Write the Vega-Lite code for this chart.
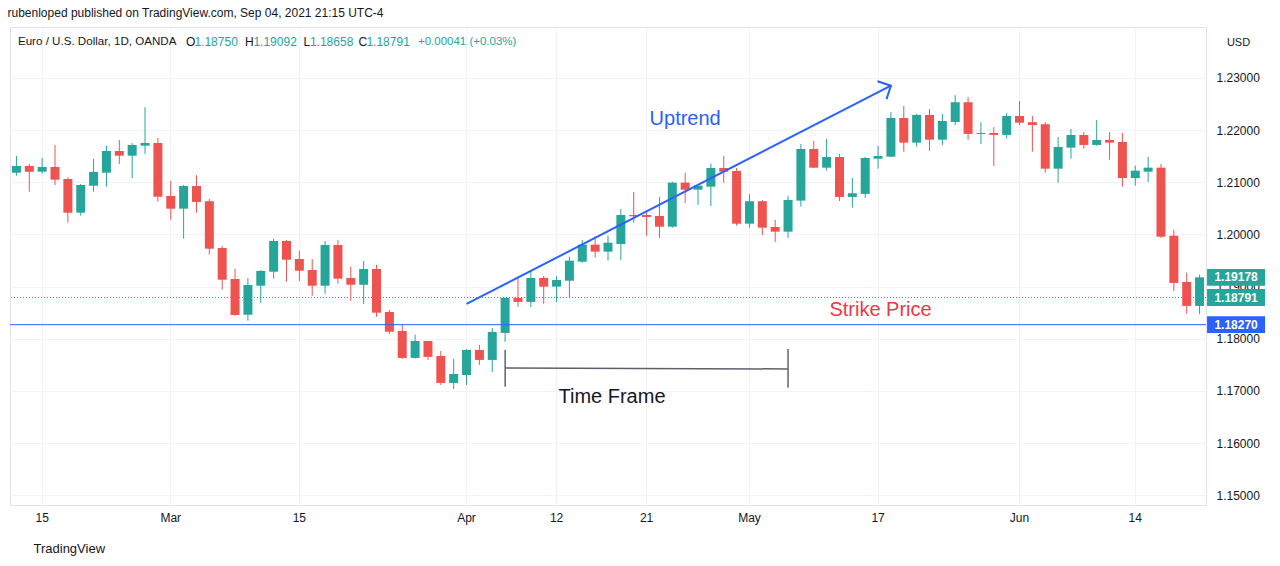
{
  "$schema": "https://vega.github.io/schema/vega-lite/v6.json",
  "autosize": "none",
  "width": 1196,
  "height": 478,
  "padding": {"left": 10, "top": 27, "right": 74, "bottom": 61},
  "background": "white",
  "title": {"text": "rubenloped published on TradingView.com, Sep 04, 2021 21:15 UTC-4", "anchor": "start", "dx": -2, "offset": 7, "fontSize": 12, "fontWeight": "normal", "color": "#131722", "font": "Liberation Sans"},
  "config": {
    "font": "Liberation Sans",
    "view": {"stroke": "#e0e3eb"}
  },
  "datasets": {
    "candles": [
      {"d":"2021-02-11","o":1.21184,"h":1.21504,"l":1.21127,"c":1.21313},
      {"d":"2021-02-12","o":1.21313,"h":1.21351,"l":1.20819,"c":1.21203},
      {"d":"2021-02-15","o":1.21203,"h":1.21466,"l":1.21165,"c":1.21294},
      {"d":"2021-02-16","o":1.21294,"h":1.21715,"l":1.20948,"c":1.21050},
      {"d":"2021-02-17","o":1.21063,"h":1.21095,"l":1.20225,"c":1.20417},
      {"d":"2021-02-18","o":1.20417,"h":1.20967,"l":1.20360,"c":1.20948},
      {"d":"2021-02-19","o":1.20934,"h":1.21447,"l":1.20819,"c":1.21198},
      {"d":"2021-02-22","o":1.21184,"h":1.21696,"l":1.20916,"c":1.21600},
      {"d":"2021-02-23","o":1.21600,"h":1.21811,"l":1.21352,"c":1.21510},
      {"d":"2021-02-24","o":1.21510,"h":1.21753,"l":1.21082,"c":1.21715},
      {"d":"2021-02-25","o":1.21702,"h":1.22439,"l":1.21543,"c":1.21753},
      {"d":"2021-02-26","o":1.21753,"h":1.21849,"l":1.20628,"c":1.20724},
      {"d":"2021-03-01","o":1.20738,"h":1.21025,"l":1.20283,"c":1.20494},
      {"d":"2021-03-02","o":1.20494,"h":1.20948,"l":1.19919,"c":1.20929},
      {"d":"2021-03-03","o":1.20929,"h":1.21135,"l":1.20417,"c":1.20623},
      {"d":"2021-03-04","o":1.20637,"h":1.20680,"l":1.19617,"c":1.19727},
      {"d":"2021-03-05","o":1.19740,"h":1.19779,"l":1.18941,"c":1.19132},
      {"d":"2021-03-08","o":1.19146,"h":1.19343,"l":1.18442,"c":1.18455},
      {"d":"2021-03-09","o":1.18461,"h":1.19165,"l":1.18346,"c":1.19030},
      {"d":"2021-03-10","o":1.19017,"h":1.19318,"l":1.18687,"c":1.19299},
      {"d":"2021-03-11","o":1.19285,"h":1.19919,"l":1.19152,"c":1.19874},
      {"d":"2021-03-12","o":1.19874,"h":1.19894,"l":1.19095,"c":1.19516},
      {"d":"2021-03-15","o":1.19529,"h":1.19689,"l":1.19108,"c":1.19305},
      {"d":"2021-03-16","o":1.19318,"h":1.19529,"l":1.18826,"c":1.19017},
      {"d":"2021-03-17","o":1.19017,"h":1.19874,"l":1.18860,"c":1.19798},
      {"d":"2021-03-18","o":1.19798,"h":1.19894,"l":1.19057,"c":1.19152},
      {"d":"2021-03-19","o":1.19165,"h":1.19381,"l":1.18725,"c":1.19036},
      {"d":"2021-03-22","o":1.19036,"h":1.19491,"l":1.18668,"c":1.19337},
      {"d":"2021-03-23","o":1.19337,"h":1.19414,"l":1.18423,"c":1.18500},
      {"d":"2021-03-24","o":1.18513,"h":1.18551,"l":1.18093,"c":1.18135},
      {"d":"2021-03-25","o":1.18149,"h":1.18283,"l":1.17613,"c":1.17633},
      {"d":"2021-03-26","o":1.17633,"h":1.18078,"l":1.17620,"c":1.17957},
      {"d":"2021-03-29","o":1.17957,"h":1.17960,"l":1.17594,"c":1.17652},
      {"d":"2021-03-30","o":1.17671,"h":1.17765,"l":1.17114,"c":1.17153},
      {"d":"2021-03-31","o":1.17153,"h":1.17613,"l":1.17038,"c":1.17324},
      {"d":"2021-04-01","o":1.17305,"h":1.17804,"l":1.17114,"c":1.17785},
      {"d":"2021-04-02","o":1.17785,"h":1.17881,"l":1.17498,"c":1.17594},
      {"d":"2021-04-05","o":1.17594,"h":1.18208,"l":1.17364,"c":1.18131},
      {"d":"2021-04-06","o":1.18112,"h":1.18790,"l":1.17939,"c":1.18783},
      {"d":"2021-04-07","o":1.18783,"h":1.19186,"l":1.18610,"c":1.18706},
      {"d":"2021-04-08","o":1.18706,"h":1.19286,"l":1.18610,"c":1.19165},
      {"d":"2021-04-09","o":1.19165,"h":1.19204,"l":1.18668,"c":1.18999},
      {"d":"2021-04-12","o":1.18999,"h":1.19204,"l":1.18706,"c":1.19127},
      {"d":"2021-04-13","o":1.19113,"h":1.19574,"l":1.18783,"c":1.19497},
      {"d":"2021-04-14","o":1.19478,"h":1.19894,"l":1.19459,"c":1.19804},
      {"d":"2021-04-15","o":1.19804,"h":1.19957,"l":1.19555,"c":1.19670},
      {"d":"2021-04-16","o":1.19670,"h":1.19976,"l":1.19497,"c":1.19842},
      {"d":"2021-04-19","o":1.19817,"h":1.20488,"l":1.19510,"c":1.20373},
      {"d":"2021-04-20","o":1.20373,"h":1.20815,"l":1.20225,"c":1.20348},
      {"d":"2021-04-21","o":1.20373,"h":1.20451,"l":1.19974,"c":1.20335},
      {"d":"2021-04-22","o":1.20354,"h":1.20719,"l":1.19933,"c":1.20149},
      {"d":"2021-04-23","o":1.20149,"h":1.21012,"l":1.20130,"c":1.20993},
      {"d":"2021-04-26","o":1.20993,"h":1.21184,"l":1.20604,"c":1.20858},
      {"d":"2021-04-27","o":1.20858,"h":1.20940,"l":1.20566,"c":1.20935},
      {"d":"2021-04-28","o":1.20916,"h":1.21357,"l":1.20546,"c":1.21274},
      {"d":"2021-04-29","o":1.21274,"h":1.21505,"l":1.20990,"c":1.21203},
      {"d":"2021-04-30","o":1.21216,"h":1.21274,"l":1.20168,"c":1.20206},
      {"d":"2021-05-03","o":1.20206,"h":1.20771,"l":1.20130,"c":1.20637},
      {"d":"2021-05-04","o":1.20637,"h":1.20661,"l":1.19990,"c":1.20130},
      {"d":"2021-05-05","o":1.20143,"h":1.20283,"l":1.19856,"c":1.20053},
      {"d":"2021-05-06","o":1.20053,"h":1.20743,"l":1.19933,"c":1.20661},
      {"d":"2021-05-07","o":1.20648,"h":1.21734,"l":1.20533,"c":1.21638},
      {"d":"2021-05-10","o":1.21638,"h":1.21792,"l":1.21275,"c":1.21280},
      {"d":"2021-05-11","o":1.21280,"h":1.21830,"l":1.21222,"c":1.21485},
      {"d":"2021-05-12","o":1.21485,"h":1.21542,"l":1.20642,"c":1.20719},
      {"d":"2021-05-13","o":1.20719,"h":1.21082,"l":1.20514,"c":1.20790},
      {"d":"2021-05-14","o":1.20777,"h":1.21485,"l":1.20700,"c":1.21466},
      {"d":"2021-05-17","o":1.21452,"h":1.21696,"l":1.21261,"c":1.21504},
      {"d":"2021-05-18","o":1.21491,"h":1.22348,"l":1.21485,"c":1.22233},
      {"d":"2021-05-19","o":1.22233,"h":1.22463,"l":1.21587,"c":1.21760},
      {"d":"2021-05-20","o":1.21760,"h":1.22310,"l":1.21683,"c":1.22290},
      {"d":"2021-05-21","o":1.22290,"h":1.22405,"l":1.21601,"c":1.21817},
      {"d":"2021-05-24","o":1.21817,"h":1.22310,"l":1.21716,"c":1.22175},
      {"d":"2021-05-25","o":1.22156,"h":1.22669,"l":1.22099,"c":1.22535},
      {"d":"2021-05-26","o":1.22535,"h":1.22631,"l":1.21817,"c":1.21927},
      {"d":"2021-05-27","o":1.21927,"h":1.22152,"l":1.21735,"c":1.21946},
      {"d":"2021-05-28","o":1.21946,"h":1.22056,"l":1.21314,"c":1.21908},
      {"d":"2021-05-31","o":1.21908,"h":1.22329,"l":1.21836,"c":1.22271},
      {"d":"2021-06-01","o":1.22271,"h":1.22559,"l":1.22099,"c":1.22143},
      {"d":"2021-06-02","o":1.22152,"h":1.22271,"l":1.21587,"c":1.22099},
      {"d":"2021-06-03","o":1.22113,"h":1.22152,"l":1.21184,"c":1.21261},
      {"d":"2021-06-04","o":1.21261,"h":1.21868,"l":1.20990,"c":1.21677},
      {"d":"2021-06-07","o":1.21664,"h":1.22022,"l":1.21452,"c":1.21907},
      {"d":"2021-06-08","o":1.21907,"h":1.21964,"l":1.21645,"c":1.21716},
      {"d":"2021-06-09","o":1.21716,"h":1.22194,"l":1.21702,"c":1.21811},
      {"d":"2021-06-10","o":1.21811,"h":1.21964,"l":1.21434,"c":1.21760},
      {"d":"2021-06-11","o":1.21773,"h":1.21945,"l":1.20916,"c":1.21082},
      {"d":"2021-06-14","o":1.21082,"h":1.21318,"l":1.20935,"c":1.21222},
      {"d":"2021-06-15","o":1.21203,"h":1.21485,"l":1.21006,"c":1.21280},
      {"d":"2021-06-16","o":1.21280,"h":1.21352,"l":1.19933,"c":1.19957},
      {"d":"2021-06-17","o":1.19976,"h":1.20091,"l":1.18917,"c":1.19070},
      {"d":"2021-06-18","o":1.19088,"h":1.19267,"l":1.18476,"c":1.18630},
      {"d":"2021-06-21","o":1.18630,"h":1.19228,"l":1.18476,"c":1.19178}
    ],
    "tags": [
      {"p":1.19178,"t":"1.19178","k":"last"},
      {"p":1.18791,"t":"1.18791","k":"close"},
      {"p":1.18270,"t":"1.18270","k":"strike"}
    ],
    "arrow": [
      {"d":"2021-04-01","p":1.18667},
      {"d":"2021-05-18","p":1.22852}
    ],
    "frame": [
      {"d":"2021-04-06","lo":1.17081,"hi":1.17785,"p":1.17440},
      {"d":"2021-05-06","lo":1.17062,"hi":1.17804,"p":1.17421}
    ],
    "hdr": [
      {"pair":"Euro / U.S. Dollar, 1D, OANDA","o":"1.18750","h":"1.19092","l":"1.18658","c":"1.18791","chg":"+0.00041 (+0.03%)","d":"2021-02-11","p":1.2369}
    ]
  },
  "layer": [
    {
      "data": {"name": "candles"},
      "mark": {"type": "rule", "strokeWidth": 1},
      "encoding": {
        "x": {
          "field": "d", "type": "ordinal",
          "scale": {"type": "band", "paddingInner": 0, "paddingOuter": 0},
          "axis": {
            "values": ["2021-02-15","2021-03-01","2021-03-15","2021-04-01","2021-04-12","2021-04-21","2021-05-03","2021-05-17","2021-06-01","2021-06-14"],
            "labelExpr": "indexof(['2021-03-01','2021-04-01','2021-05-03','2021-06-01'], datum.value) >= 0 ? utcFormat(toDate(datum.value), '%b') : utcFormat(toDate(datum.value), '%-d')",
            "bandPosition": 0.5,
            "grid": true, "gridColor": "#f0f3fa", "gridWidth": 1,
            "ticks": false, "domain": false,
            "labelAngle": 0, "labelFontSize": 12, "labelColor": "#131722", "labelPadding": 7,
            "title": "TradingView", "titleX": 23, "titleY": 43, "titleAlign": "left", "titleBaseline": "middle",
            "titleFontSize": 13, "titleFontWeight": "normal", "titleColor": "#131722"
          }
        },
        "y": {
          "field": "l", "type": "quantitative",
          "scale": {"domain": [1.14813, 1.23977], "nice": false, "zero": false},
          "axis": {
            "orient": "right",
            "values": [1.15, 1.16, 1.17, 1.18, 1.19, 1.20, 1.21, 1.22, 1.23],
            "format": ".5f",
            "grid": true, "gridColor": "#f0f3fa",
            "ticks": false, "domain": false,
            "labelFontSize": 12, "labelColor": "#131722", "labelPadding": 10,
            "title": "USD", "titleAngle": 0, "titleX": 32, "titleY": 15, "titleAlign": "center", "titleBaseline": "middle",
            "titleFontSize": 11, "titleFontWeight": "normal", "titleColor": "#131722"
          }
        },
        "y2": {"field": "h"},
        "color": {"condition": {"test": "datum.c >= datum.o", "value": "#26a69a"}, "value": "#ef5350"}
      }
    },
    {
      "data": {"name": "candles"},
      "mark": {"type": "bar", "width": {"band": 0.7}},
      "encoding": {
        "x": {"field": "d", "type": "ordinal"},
        "y": {"field": "o", "type": "quantitative"},
        "y2": {"field": "c"},
        "color": {"condition": {"test": "datum.c >= datum.o", "value": "#26a69a"}, "value": "#ef5350"}
      }
    },
    {
      "data": {"name": "tags"},
      "transform": [{"filter": "datum.k == 'close'"}],
      "mark": {"type": "rule", "color": "#26a69a", "strokeWidth": 1, "strokeDash": [1, 2]},
      "encoding": {"y": {"field": "p", "type": "quantitative"}}
    },
    {
      "data": {"name": "tags"},
      "transform": [{"filter": "datum.k == 'strike'"}],
      "mark": {"type": "rule", "color": "#2962ff", "strokeWidth": 1},
      "encoding": {"y": {"field": "p", "type": "quantitative"}}
    },
    {
      "data": {"name": "arrow"},
      "mark": {"type": "line", "color": "#2962ff", "strokeWidth": 2},
      "encoding": {
        "x": {"field": "d", "type": "ordinal"},
        "y": {"field": "p", "type": "quantitative"}
      }
    },
    {
      "data": {"name": "arrow"},
      "transform": [{"filter": "datum.d == '2021-05-18'"}],
      "mark": {"type": "point", "shape": "M-1,-1L0,0L-1,1", "size": 400, "angle": -27, "filled": false, "stroke": "#2962ff", "strokeWidth": 2, "opacity": 1},
      "encoding": {
        "x": {"field": "d", "type": "ordinal"},
        "y": {"field": "p", "type": "quantitative"}
      }
    },
    {
      "data": {"name": "frame"},
      "mark": {"type": "rule", "color": "#131722", "strokeWidth": 1},
      "encoding": {
        "x": {"field": "d", "type": "ordinal"},
        "y": {"field": "lo", "type": "quantitative"},
        "y2": {"field": "hi"}
      }
    },
    {
      "data": {"name": "frame"},
      "mark": {"type": "line", "color": "#5d606b", "strokeWidth": 1.5},
      "encoding": {
        "x": {"field": "d", "type": "ordinal"},
        "y": {"field": "p", "type": "quantitative"}
      }
    },
    {
      "data": {"values": [{"d": "2021-04-26", "p": 1.22214, "t": "Uptrend"}]},
      "mark": {"type": "text", "color": "#2962ff", "fontSize": 20, "align": "center", "baseline": "middle"},
      "encoding": {
        "x": {"field": "d", "type": "ordinal"},
        "y": {"field": "p", "type": "quantitative"},
        "text": {"field": "t"}
      }
    },
    {
      "data": {"values": [{"d": "2021-05-17", "p": 1.18552, "t": "Strike Price"}]},
      "mark": {"type": "text", "color": "#f23645", "fontSize": 20, "align": "center", "baseline": "middle", "dx": 2.5},
      "encoding": {
        "x": {"field": "d", "type": "ordinal"},
        "y": {"field": "p", "type": "quantitative"},
        "text": {"field": "t"}
      }
    },
    {
      "data": {"values": [{"d": "2021-04-16", "p": 1.16884, "t": "Time Frame"}]},
      "mark": {"type": "text", "color": "#131722", "fontSize": 20, "align": "center", "baseline": "middle", "dx": 4},
      "encoding": {
        "x": {"field": "d", "type": "ordinal"},
        "y": {"field": "p", "type": "quantitative"},
        "text": {"field": "t"}
      }
    },
    {
      "data": {"name": "hdr"},
      "mark": {"type": "text", "color": "#131722", "fontSize": 11.6, "align": "left", "baseline": "middle", "dx": 1.5},
      "encoding": {"x": {"field": "d", "type": "ordinal"}, "y": {"field": "p", "type": "quantitative"}, "text": {"field": "pair"}}
    },
    {
      "data": {"name": "hdr"},
      "mark": {"type": "text", "color": "#131722", "fontSize": 12, "align": "left", "baseline": "middle", "dx": 169.5, "text": "O"},
      "encoding": {"x": {"field": "d", "type": "ordinal"}, "y": {"field": "p", "type": "quantitative"}}
    },
    {
      "data": {"name": "hdr"},
      "mark": {"type": "text", "color": "#26a69a", "fontSize": 12, "align": "left", "baseline": "middle", "dx": 178},
      "encoding": {"x": {"field": "d", "type": "ordinal"}, "y": {"field": "p", "type": "quantitative"}, "text": {"field": "o"}}
    },
    {
      "data": {"name": "hdr"},
      "mark": {"type": "text", "color": "#131722", "fontSize": 12, "align": "left", "baseline": "middle", "dx": 228.5, "text": "H"},
      "encoding": {"x": {"field": "d", "type": "ordinal"}, "y": {"field": "p", "type": "quantitative"}}
    },
    {
      "data": {"name": "hdr"},
      "mark": {"type": "text", "color": "#26a69a", "fontSize": 12, "align": "left", "baseline": "middle", "dx": 237},
      "encoding": {"x": {"field": "d", "type": "ordinal"}, "y": {"field": "p", "type": "quantitative"}, "text": {"field": "h"}}
    },
    {
      "data": {"name": "hdr"},
      "mark": {"type": "text", "color": "#131722", "fontSize": 12, "align": "left", "baseline": "middle", "dx": 287, "text": "L"},
      "encoding": {"x": {"field": "d", "type": "ordinal"}, "y": {"field": "p", "type": "quantitative"}}
    },
    {
      "data": {"name": "hdr"},
      "mark": {"type": "text", "color": "#26a69a", "fontSize": 12, "align": "left", "baseline": "middle", "dx": 293.5},
      "encoding": {"x": {"field": "d", "type": "ordinal"}, "y": {"field": "p", "type": "quantitative"}, "text": {"field": "l"}}
    },
    {
      "data": {"name": "hdr"},
      "mark": {"type": "text", "color": "#131722", "fontSize": 12, "align": "left", "baseline": "middle", "dx": 342, "text": "C"},
      "encoding": {"x": {"field": "d", "type": "ordinal"}, "y": {"field": "p", "type": "quantitative"}}
    },
    {
      "data": {"name": "hdr"},
      "mark": {"type": "text", "color": "#26a69a", "fontSize": 12, "align": "left", "baseline": "middle", "dx": 350},
      "encoding": {"x": {"field": "d", "type": "ordinal"}, "y": {"field": "p", "type": "quantitative"}, "text": {"field": "c"}}
    },
    {
      "data": {"name": "hdr"},
      "mark": {"type": "text", "color": "#26a69a", "fontSize": 11.5, "align": "left", "baseline": "middle", "dx": 401.5},
      "encoding": {"x": {"field": "d", "type": "ordinal"}, "y": {"field": "p", "type": "quantitative"}, "text": {"field": "chg"}}
    },
    {
      "data": {"name": "tags"},
      "mark": {"type": "point", "shape": "M-1,-0.29H1V0.29H-1Z", "size": 3364, "filled": true, "opacity": 1, "xOffset": 36.5},
      "encoding": {
        "x": {"datum": "2021-06-21", "type": "ordinal"},
        "y": {"field": "p", "type": "quantitative"},
        "color": {"field": "k", "type": "nominal", "scale": {"domain": ["last", "close", "strike"], "range": ["#26a69a", "#26a69a", "#2962ff"]}, "legend": null}
      }
    },
    {
      "data": {"name": "tags"},
      "mark": {"type": "text", "color": "white", "fontSize": 12, "fontWeight": "bold", "align": "center", "baseline": "middle", "xOffset": 36.5},
      "encoding": {
        "x": {"datum": "2021-06-21", "type": "ordinal"},
        "y": {"field": "p", "type": "quantitative"},
        "text": {"field": "t"}
      }
    }
  ]
}
